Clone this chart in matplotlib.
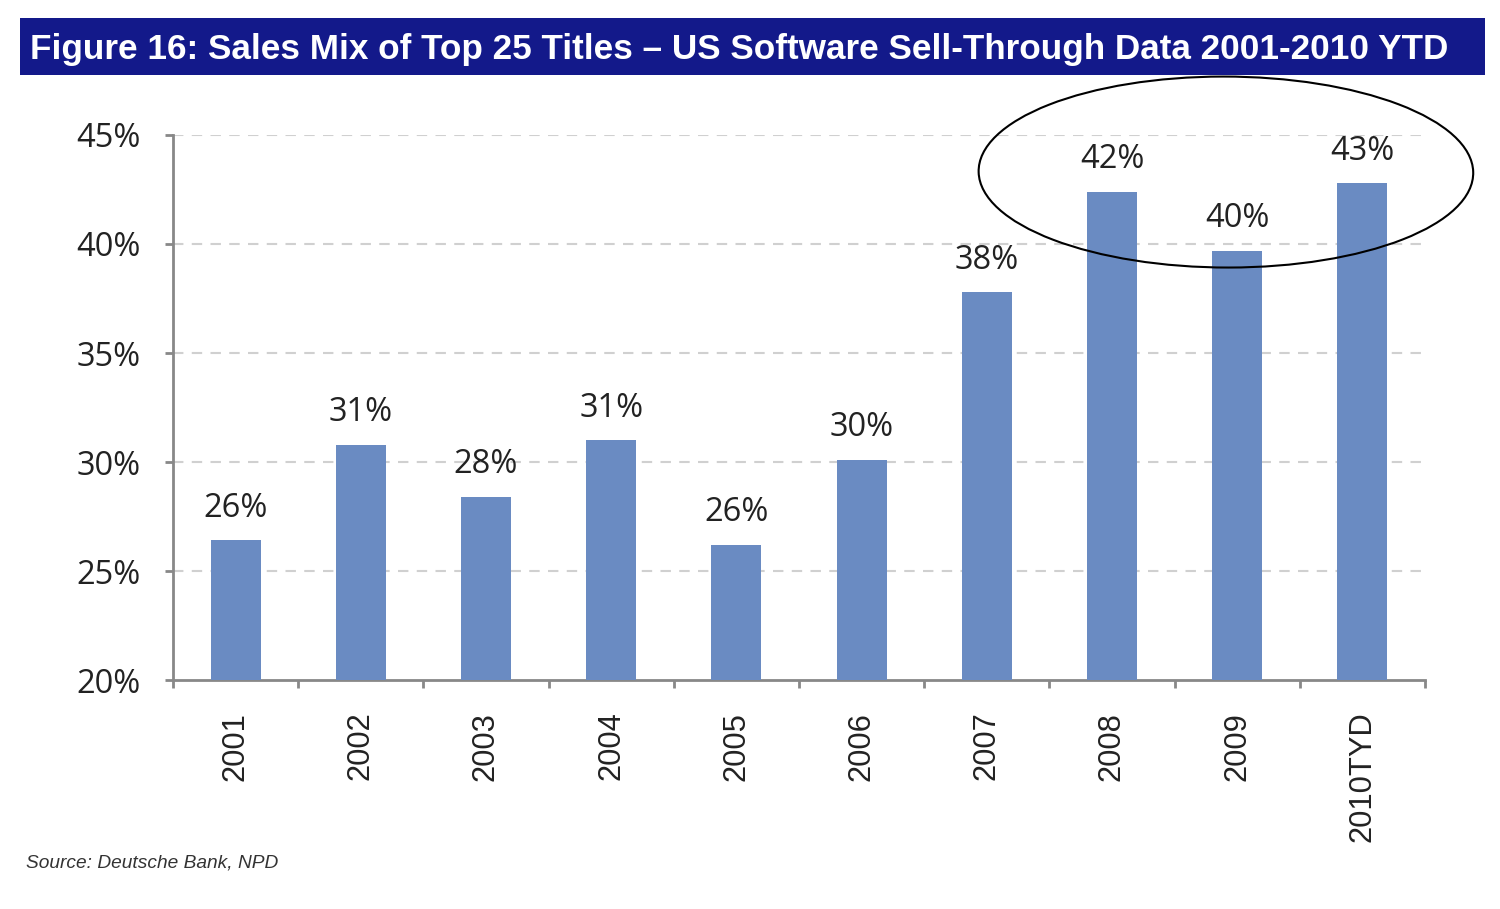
import matplotlib.pyplot as plt
from matplotlib.patches import Ellipse, Rectangle
import numpy as np

years = ["2001", "2002", "2003", "2004", "2005", "2006", "2007", "2008", "2009", "2010TYD"]
share = [26.4, 30.8, 28.4, 31.0, 26.2, 30.1, 37.8, 42.4, 39.7, 42.8]
labels = ["26%", "31%", "28%", "31%", "26%", "30%", "38%", "42%", "40%", "43%"]
yticks = [20, 25, 30, 35, 40, 45]

fig = plt.figure(figsize=(15, 9.09), dpi=100)

# title banner
fig.patches.append(Rectangle((0.0133, 0.917), 0.977, 0.063, transform=fig.transFigure,
                             facecolor="#13198A", edgecolor="none"))
fig.text(0.02, 0.946, "Figure 16: Sales Mix of Top 25 Titles \u2013 US Software Sell-Through Data 2001-2010 YTD",
         color="white", fontsize=25.3, fontweight="bold", family="Liberation Sans", va="center", ha="left")

ax = fig.add_axes([0.1153, 0.2519, 0.8347, 0.5996])
x = np.arange(len(years))
ax.bar(x, [v - 20 for v in share], bottom=20, width=0.4, color="#6A8BC2", zorder=3)

for xi, v, lab in zip(x, share, labels):
    ax.annotate(lab, (xi, v), xytext=(0, 23), textcoords="offset points", ha="center", va="center",
                fontsize=23.5, family="Open Sans", color="#222222")

ax.set_xlim(-0.5, len(years) - 0.5)
ax.set_ylim(20, 45)
ax.set_yticks(yticks)
ax.set_yticklabels([f"{t}%" for t in yticks], fontsize=23.5, family="Open Sans", color="#222222")
for t in yticks[1:]:
    ax.axhline(t, color="#D0D0D0", linestyle=(0, (5, 4)), linewidth=1.5, zorder=1)

ax.set_xticks(np.arange(-0.5, len(years), 1))
ax.set_xticklabels([])
ax.tick_params(axis="x", direction="out", length=6, width=2, color="#888888")
ax.tick_params(axis="y", direction="out", length=6, width=2, color="#888888", pad=17)
for xi, yr in zip(x, years):
    ax.text(xi, -0.058, yr, transform=ax.get_xaxis_transform(), rotation=90, ha="center", va="top",
            fontsize=22.2, family="Liberation Sans", color="#222222")

for s in ["top", "right"]:
    ax.spines[s].set_visible(False)
for s in ["left", "bottom"]:
    ax.spines[s].set_color("#888888")
    ax.spines[s].set_linewidth(2)

ax.add_patch(Ellipse((7.91, 43.3), 3.95, 8.76, angle=0.3, fill=False, edgecolor="black",
                     linewidth=1.5, clip_on=False, zorder=5))

fig.text(0.017, 0.046, "Source: Deutsche Bank, NPD", fontsize=13.8, style="italic",
         family="Liberation Sans", color="#333333")

fig.savefig("out.png", dpi=100)
